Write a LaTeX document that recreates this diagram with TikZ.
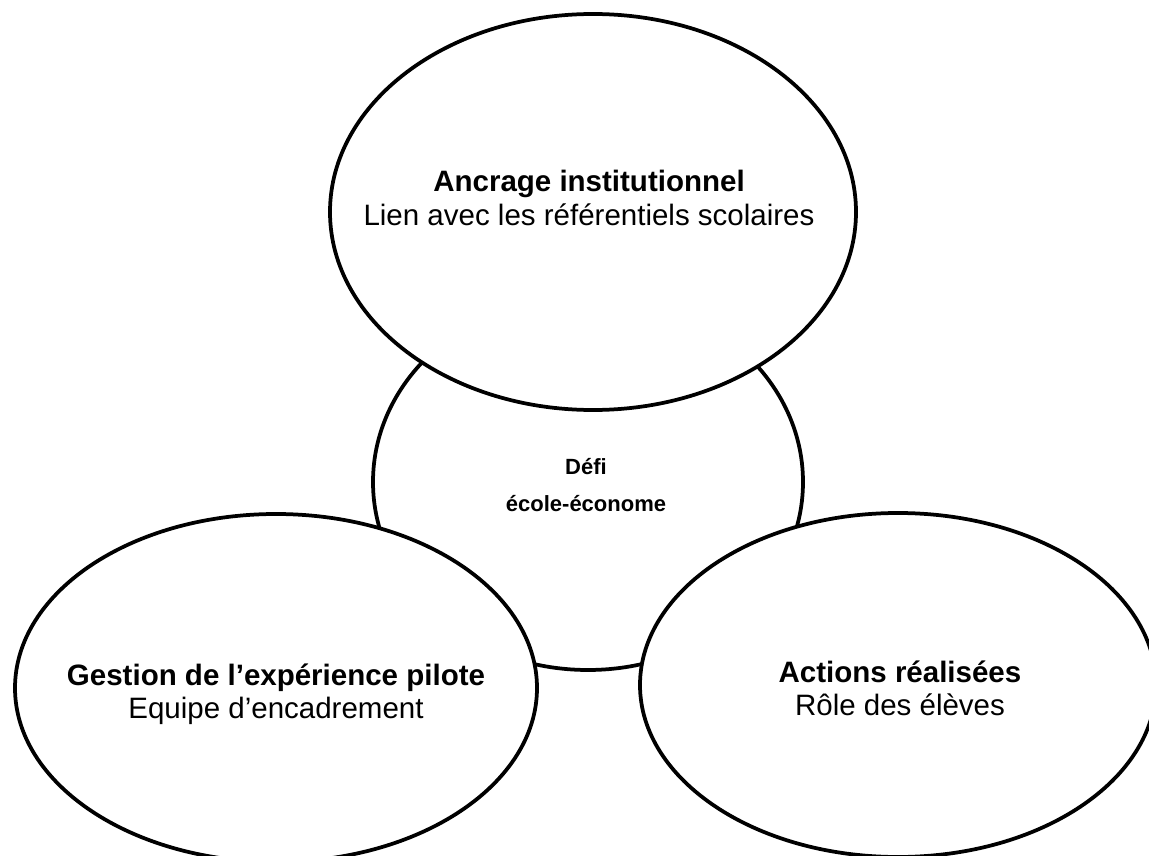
\documentclass[tikz,border=0pt]{standalone}
\usepackage{fontspec}
\setmainfont{Liberation Sans}
\usetikzlibrary{shapes.geometric}
\tikzset{
  bubble/.style={ellipse, draw=black, fill=white, line width=3.75pt, inner sep=0pt},
  headline/.style={anchor=base, inner sep=0pt, font=\fontsize{29.5}{33}\selectfont\bfseries},
  subline/.style={anchor=base, inner sep=0pt, font=\fontsize{29.5}{33}\selectfont},
  coreline/.style={anchor=base, inner sep=0pt, font=\fontsize{22}{26}\selectfont\bfseries}
}
\begin{document}
\begin{tikzpicture}[x=1pt,y=-1pt]
\useasboundingbox (0,0) rectangle (1149,856);
\clip (0,0) rectangle (1149,856);
% central bubble first, the three outer bubbles overlap it
\node[bubble, minimum width=430pt, minimum height=376pt] (core) at (588,482) {};
\node[bubble, minimum width=526pt, minimum height=396pt] (ancrage) at (593,212) {};
\node[bubble, minimum width=522pt, minimum height=348pt] (pilote) at (276,688) {};
\node[bubble, minimum width=516pt, minimum height=344pt] (actions) at (898,685) {};
% labels
\node[headline] (ancrageA) at (589,192) {Ancrage institutionnel};
\node[subline]  (ancrageB) at (589,225) {Lien avec les référentiels scolaires};
\node[coreline] (coreA) at (586,474) {Défi};
\node[coreline] (coreB) at (586,511) {école-économe};
\node[headline] (piloteA) at (276,685) {Gestion de l’expérience pilote};
\node[subline]  (piloteB) at (276,718) {Equipe d’encadrement};
\node[headline] (actionsA) at (900,682) {Actions réalisées};
\node[subline]  (actionsB) at (900,715) {Rôle des élèves};
\end{tikzpicture}
\end{document}
